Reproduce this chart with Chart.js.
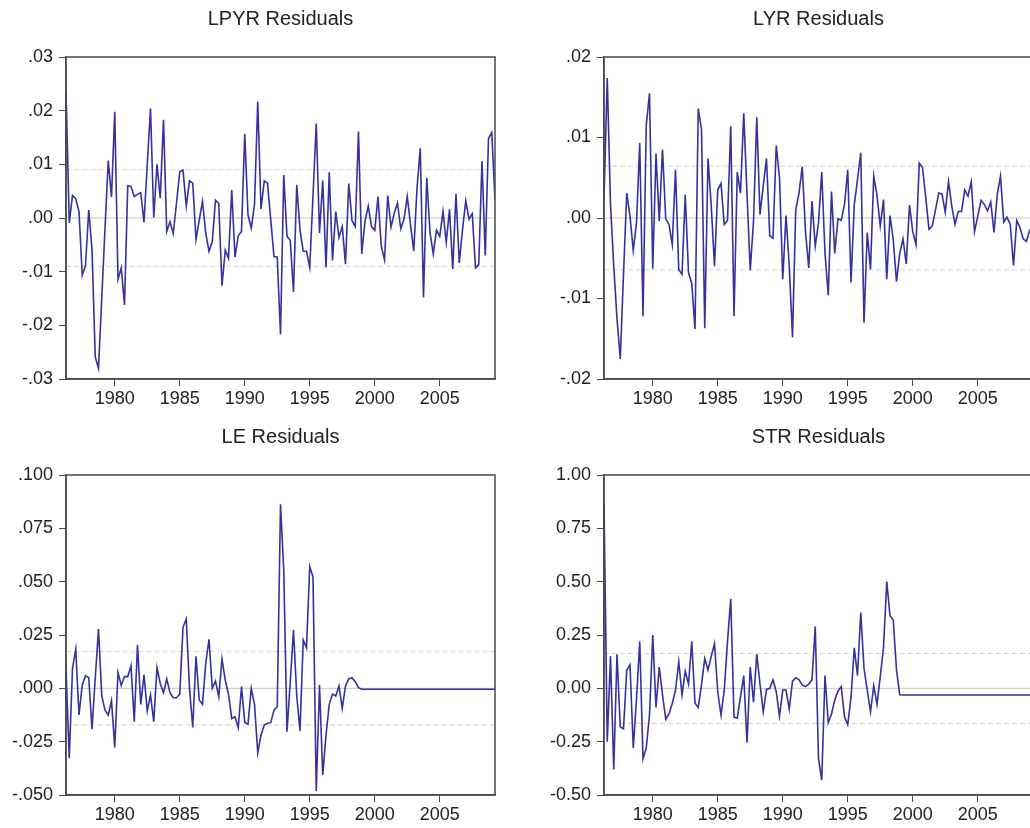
<!DOCTYPE html>
<html>
<head>
<meta charset="utf-8">
<title>Residuals</title>
<script src="https://cdn.jsdelivr.net/npm/chart.js@4.4.1/dist/chart.umd.min.js"></script>
<style>
    html, body { margin: 0; padding: 0; background: #fff; overflow: hidden; }
    body { width: 1030px; height: 828px; position: relative; }
    canvas { position: absolute; }
</style>
</head>
<body>
<canvas id="chart-lpyr" width="515" height="415" style="left:0px;top:0px"></canvas>
<canvas id="chart-lyr" width="515" height="415" style="left:538px;top:0px"></canvas>
<canvas id="chart-le" width="515" height="413" style="left:0px;top:418px"></canvas>
<canvas id="chart-str" width="515" height="413" style="left:538px;top:418px"></canvas>
<script>
// Data (quarterly, 1976Q2 - 2009Q2)
const firstQuarter = 1976.25;
const yearTicks = [1980, 1985, 1990, 1995, 2000, 2005];

const lpyrResid = [
    .0237, -.0009, .0042, .0036, .0012, -.0107, -.0088, .0015, -.0059, -.0259,
    -.0280, -.0150, -.0020, .0107, .0039, .0198, -.0114, -.0093, -.0162, .0060,
    .0059, .0040, .0044, .0047, -.0008, .0100, .0204, .0001, .0100, .0037,
    .0183, -.0025, -.0007, -.0029, .0028, .0086, .0089, .0022, .0069, .0065,
    -.0040, -.0004, .0031, -.0028, -.0062, -.0044, .0033, .0027, -.0126, -.0060,
    -.0075, .0052, -.0073, -.0033, -.0025, .0157, .0006, -.0019, .0025, .0217,
    .0017, .0069, .0065, -.0003, -.0072, -.0073, -.0217, .0080, -.0034, -.0042,
    -.0138, .0062, -.0022, -.0062, -.0062, -.0092, .0042, .0176, -.0028, .0070,
    -.0092, .0085, -.0079, .0012, -.0036, -.0016, -.0086, .0064, -.0005, -.0016,
    .0161, -.0067, -.0006, .0022, -.0016, -.0023, .0040, -.0052, -.0078, .0042,
    -.0017, .0009, .0028, -.0020, -.0002, .0040, -.0012, -.0062, .0055, .0130,
    -.0148, .0075, -.0027, -.0067, -.0023, -.0034, .0012, -.0045, .0016, -.0095,
    .0045, -.0084, -.0022, .0032, -.0002, .0008, -.0093, -.0087, .0106, -.0070,
    .0148, .0159, .0034
];

const lyrResid = [
    .0024, .0174, .0017, -.0060, -.0125, -.0175, -.0070, .0031, .0002, -.0040,
    -.0006, .0093, -.0122, .0115, .0155, -.0063, .0080, -.0004, .0085, -.0001,
    -.0008, -.0033, .0060, -.0064, -.0070, .0029, -.0068, -.0081, -.0138, .0136,
    .0110, -.0137, .0074, .0015, -.0060, .0035, .0043, -.0008, -.0003, .0114,
    -.0122, .0057, .0031, .0130, .0030, -.0065, -.0004, .0125, .0004, .0040,
    .0074, -.0022, -.0025, .0090, .0050, -.0076, .0003, -.0060, -.0148, .0010,
    .0031, .0064, -.0017, -.0062, .0021, -.0035, -.0006, .0057, -.0044, -.0096,
    .0033, -.0044, -.0001, -.0003, .0017, .0060, -.0080, .0016, .0048, .0081,
    -.0130, -.0018, -.0064, .0052, .0028, -.0010, .0023, -.0076, .0003, -.0027,
    -.0079, -.0044, -.0026, -.0057, .0016, -.0017, -.0033, .0068, .0063, .0025,
    -.0014, -.0010, .0010, .0031, .0030, .0007, .0045, .0015, -.0008, .0008,
    .0008, .0035, .0027, .0045, -.0017, .0002, .0022, .0017, .0009, .0020,
    -.0018, .0029, .0052, -.0005, .0001, -.0008, -.0059, -.0003, -.0012, -.0026,
    -.0029, -.0015, -.0010
];

const leResid = [
    .0094, -.0328, .0094, .0184, -.0125, .0016, .0059, .0050, -.0191, .0047,
    .0278, -.0034, -.0102, -.0125, -.0058, -.0277, .0075, .0013, .0055, .0055,
    .0106, -.0156, .0203, -.0075, .0063, -.0106, -.0031, -.0156, .0097, .0023,
    -.0020, .0044, -.0020, -.0044, -.0044, -.0027, .0286, .0325, .0000, -.0183,
    .0150, -.0055, -.0075, .0117, .0230, .0000, .0034, -.0039, .0138, .0039,
    -.0028, -.0141, -.0133, -.0184, .0008, -.0159, -.0169, .0000, -.0075, -.0302,
    -.0219, -.0172, -.0164, -.0161, -.0102, -.0086, .0863, .0555, -.0203, .0031,
    .0273, -.0034, -.0200, .0227, .0191, .0570, .0523, -.0481, .0016, -.0406,
    -.0219, -.0075, -.0027, -.0036, .0011, -.0094, .0011, .0044, .0050, .0031,
    .0003, -.0004, -.0004, -.0004, -.0004, -.0004, -.0004, -.0004, -.0004, -.0004,
    -.0004, -.0004, -.0004, -.0004, -.0004, -.0004, -.0004, -.0004, -.0004, -.0004,
    -.0004, -.0004, -.0004, -.0004, -.0004, -.0004, -.0004, -.0004, -.0004, -.0004,
    -.0004, -.0004, -.0004, -.0004, -.0004, -.0004, -.0004, -.0004, -.0004, -.0004,
    -.0004, -.0004, -.0004
];

const strResid = [
    .867, -.25, .15, -.38, .16, -.18, -.19, .086, .11, -.28,
    -.05, .22, -.33, -.28, -.125, .25, -.09, .10, -.03, -.145,
    -.12, -.07, -.01, .125, -.03, .08, .02, .22, -.07, -.09,
    .016, .14, .086, .15, .21, -.016, -.125, -.01, .22, .42,
    -.135, -.14, -.04, .06, -.255, .10, -.065, .16, .02, -.11,
    -.005, .00, .04, -.016, -.13, -.008, -.008, -.097, .034, .05,
    .04, .016, .008, .02, .04, .29, -.33, -.43, .06, -.16,
    -.12, -.055, -.013, .008, -.133, -.17, -.044, .19, .06, .355,
    .094, -.008, -.11, .0125, -.075, .055, .19, .50, .34, .32,
    .086, -.03, -.031, -.031, -.031, -.031, -.031, -.031, -.031, -.031,
    -.031, -.031, -.031, -.031, -.031, -.031, -.031, -.031, -.031, -.031,
    -.031, -.031, -.031, -.031, -.031, -.031, -.031, -.031, -.031, -.031,
    -.031, -.031, -.031, -.031, -.031, -.031, -.031, -.031, -.031, -.031,
    -.031, -.031, -.031
];

// +/- bands (dashed)
const lpyrBand = 0.009;
const lyrBand = 0.00645;
const leBand = 0.0172;
const strBand = 0.164;

// Y tick values and labels
const lpyrTicks = [-0.03, -0.02, -0.01, 0, 0.01, 0.02, 0.03];
const lpyrLabels = ['-.03', '-.02', '-.01', '.00', '.01', '.02', '.03'];
const lyrTicks = [-0.02, -0.01, 0, 0.01, 0.02];
const lyrLabels = ['-.02', '-.01', '.00', '.01', '.02'];
const leTicks = [-0.05, -0.025, 0, 0.025, 0.05, 0.075, 0.1];
const leLabels = ['-.050', '-.025', '.000', '.025', '.050', '.075', '.100'];
const strTicks = [-0.5, -0.25, 0, 0.25, 0.5, 0.75, 1];
const strLabels = ['-0.50', '-0.25', '0.00', '0.25', '0.50', '0.75', '1.00'];

const dates = lpyrResid.map((_, i) => firstQuarter + i / 4);

const styles = {
    line: '#3730a0',
    text: '#222222',
    axis: '#4a4a4a',
    zero: '#c8c8c8',
    band: '#d2d2d2',
    font: "'Liberation Sans', Arial, sans-serif"
};

// frame round the plot area
const framePlugin = {
    id: 'frame',
    afterDatasetsDraw: function (chart) {
        const a = chart.chartArea;
        const ctx = chart.ctx;
        ctx.save();
        ctx.strokeStyle = styles.axis;
        ctx.lineWidth = 1.5;
        ctx.strokeRect(a.left, a.top, a.right - a.left, a.bottom - a.top);
        ctx.restore();
    }
};

const flatLine = function (y) {
    return [{ x: dates[0], y: y }, { x: dates[dates.length - 1], y: y }];
};

const makePanel = function (id, title, values, band, yTicks, yLabels) {
    const series = values.map((v, i) => ({ x: dates[i], y: v }));

    new Chart(document.getElementById(id), {
        type: 'line',
        data: {
            datasets: [
                { data: series, borderColor: styles.line, borderWidth: 1.6 },
                { data: flatLine(0), borderColor: styles.zero, borderWidth: 1 },
                { data: flatLine(band), borderColor: styles.band, borderWidth: 1, borderDash: [5, 3] },
                { data: flatLine(-band), borderColor: styles.band, borderWidth: 1, borderDash: [5, 3] }
            ]
        },
        options: {
            responsive: false,
            animation: false,
            devicePixelRatio: 1,
            elements: { point: { radius: 0 }, line: { tension: 0 } },
            layout: { padding: { left: 0, right: 20, top: 0, bottom: 0 } },
            plugins: {
                legend: { display: false },
                tooltip: { enabled: false },
                title: {
                    display: true,
                    text: title,
                    fullSize: false,
                    color: styles.text,
                    font: { family: styles.font, size: 20, weight: 'normal', lineHeight: 1.2 },
                    padding: { top: 7, bottom: 26 }
                }
            },
            scales: {
                x: {
                    type: 'linear',
                    min: dates[0],
                    max: dates[dates.length - 1],
                    afterBuildTicks: function (scale) {
                        scale.ticks = yearTicks.map(v => ({ value: v }));
                    },
                    afterFit: function (scale) {
                        scale.height = 36;
                    },
                    ticks: {
                        autoSkip: false,
                        maxRotation: 0,
                        padding: 2,
                        color: styles.text,
                        font: { family: styles.font, size: 18 },
                        callback: v => String(v)
                    },
                    grid: { drawOnChartArea: false, drawTicks: true, tickLength: 7, color: styles.axis },
                    border: { display: true, color: styles.axis, width: 1.5 }
                },
                y: {
                    type: 'linear',
                    min: yTicks[0],
                    max: yTicks[yTicks.length - 1],
                    afterBuildTicks: function (scale) {
                        scale.ticks = yTicks.map(v => ({ value: v }));
                    },
                    afterFit: function (scale) {
                        scale.width = 66;
                    },
                    ticks: {
                        padding: 6,
                        color: styles.text,
                        font: { family: styles.font, size: 18 },
                        callback: function (v) {
                            const k = yTicks.findIndex(t => Math.abs(t - v) < 1e-9);
                            return k >= 0 ? yLabels[k] : '';
                        }
                    },
                    grid: { drawOnChartArea: false, drawTicks: true, tickLength: 7, color: styles.axis },
                    border: { display: true, color: styles.axis, width: 1.5 }
                }
            }
        },
        plugins: [framePlugin]
    });
};

makePanel('chart-lpyr', 'LPYR Residuals', lpyrResid, lpyrBand, lpyrTicks, lpyrLabels);
makePanel('chart-lyr', 'LYR Residuals', lyrResid, lyrBand, lyrTicks, lyrLabels);
makePanel('chart-le', 'LE Residuals', leResid, leBand, leTicks, leLabels);
makePanel('chart-str', 'STR Residuals', strResid, strBand, strTicks, strLabels);
</script>
</body>
</html>
